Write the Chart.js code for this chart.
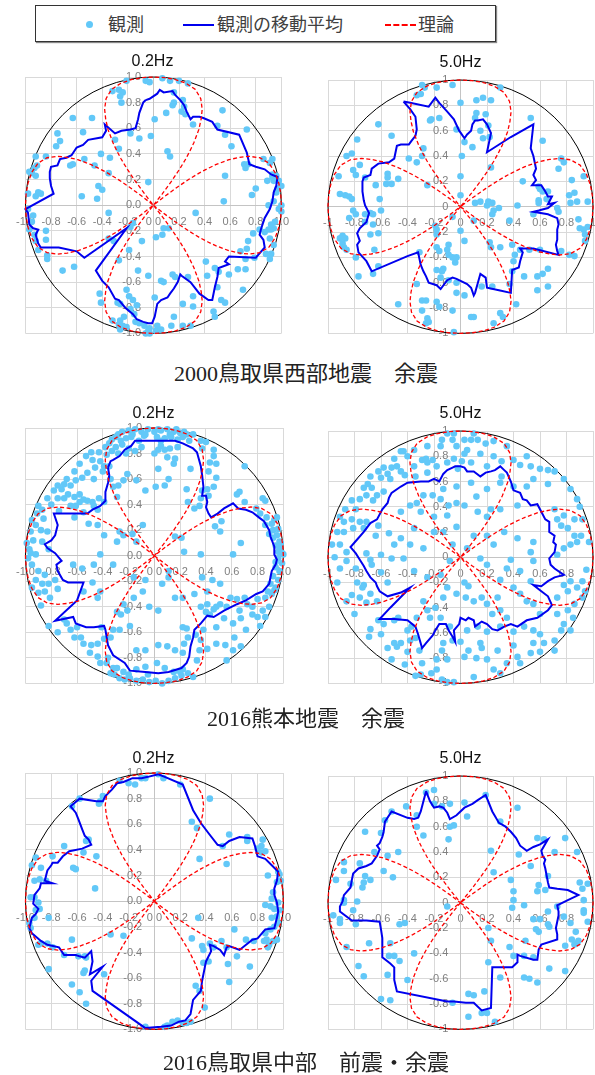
<!DOCTYPE html>
<html lang="ja">
<head>
<meta charset="utf-8">
<title>観測と理論の放射特性</title>
<script src="https://cdn.jsdelivr.net/npm/chart.js@4.4.1/dist/chart.umd.min.js"></script>
<style>
  html, body { margin: 0; padding: 0; background: #fff; overflow: hidden; }
  body { position: relative; width: 595px; height: 1075px; }
  canvas { position: absolute; }
  #legend { position: absolute; left: 35px; top: 5px; width: 459px; height: 35px;
            border: 1px solid #333; box-shadow: 1px 1px 1px #888; background: #fff; }
  #legend .item { position: absolute; top: 0; height: 35px; line-height: 35px;
                  font-family: "Noto Sans CJK JP", sans-serif; font-size: 18px; color: #404040; }
  #legend .sym { position: absolute; }
  .caption { position: absolute; left: 0; width: 612px; text-align: center;
             font-family: "Liberation Serif", "Noto Sans CJK JP", serif; font-size: 22px; color: #222; }
</style>
</head>
<body>
<div id="legend">
  <span class="sym" style="left:50px;top:15px;width:7px;height:7px;border-radius:50%;background:#62c8f8;"></span>
  <span class="item" style="left:72px;">観測</span>
  <span class="sym" style="left:147px;top:18px;width:31px;border-top:2px solid #0000ee;"></span>
  <span class="item" style="left:181px;">観測の移動平均</span>
  <span class="sym" style="left:349px;top:18px;width:31px;border-top:2px dashed #ff0000;"></span>
  <span class="item" style="left:382px;">理論</span>
</div>

<canvas id="c1" width="293" height="300" style="left:6px;top:52px;"></canvas>
<canvas id="c2" width="295" height="299" style="left:313px;top:53px;"></canvas>
<div class="caption" style="top:355px;">2000鳥取県西部地震　余震</div>
<canvas id="c3" width="295" height="298" style="left:6px;top:404px;"></canvas>
<canvas id="c4" width="295" height="298" style="left:313px;top:404px;"></canvas>
<div class="caption" style="top:700px;">2016熊本地震　余震</div>
<canvas id="c5" width="295" height="299" style="left:6px;top:749px;"></canvas>
<canvas id="c6" width="295" height="299" style="left:313px;top:749px;"></canvas>
<div class="caption" style="top:1044px;">2016鳥取県中部　前震・余震</div>

<script>
// ---- theoretical radiation lobe: radius against angle from the lobe axis (deg) ----
const lobeOffsetDeg = [0, 5, 10, 15, 20, 24, 27, 29, 31, 33, 34, 35, 36, 37, 38, 38.6];
const lobeRadius    = [1.0, 0.999, 0.995, 0.985, 0.96, 0.91, 0.84, 0.77, 0.69, 0.58, 0.51, 0.44, 0.35, 0.24, 0.11, 0];
const lobeAxesDeg   = [0, 90, 180, 270];

// ---- axis ticks ----
const tickMin = -1, tickMax = 1, tickStep = 0.2;

// ---- 2000 Tottori-ken Seibu aftershocks ----
const tottori2000Obs02 = [[-0.21,0.97],[-0.06,0.97],[-0.03,0.96],[0.07,0.99],[0.13,0.97],[0.20,0.97],[0.27,0.95],[-0.32,0.89],[-0.27,0.90],[-0.24,0.88],[-0.26,0.85],[-0.25,0.80],[0.01,0.67],[0.10,0.72],[0.15,0.78],[0.16,0.80],[0.23,0.82],[0.24,0.77],[0.22,0.73],[0.25,0.71],[0.16,0.88],[0.31,0.63],[0.54,0.74],[-0.63,0.68],[-0.48,0.68],[-0.55,0.57],[-0.75,0.56],[-0.73,0.50],[-0.76,0.46],[-0.18,0.56],[-0.11,0.52],[-0.02,0.54],[-0.30,0.51],[-0.27,0.44],[-0.34,0.37],[-0.41,0.40],[-0.54,0.36],[-0.63,0.32],[-0.65,0.31],[-0.46,0.31],[-0.35,0.25],[-0.43,0.15],[-0.40,0.12],[-0.56,0.07],[-0.44,0.05],[-0.35,-0.06],[-0.92,0.38],[-0.91,0.31],[-0.93,0.29],[-0.84,0.38],[-0.97,0.26],[-0.95,0.25],[-0.92,0.23],[-0.98,0.09],[-0.90,0.10],[-0.92,0.07],[-0.88,0.09],[-0.98,-0.03],[-0.94,-0.08],[-0.95,-0.13],[-0.97,-0.19],[-0.93,-0.23],[-0.84,-0.20],[-0.84,-0.27],[-0.92,-0.28],[-0.90,-0.35],[-0.83,-0.39],[-0.83,-0.42],[-0.71,-0.51],[-0.62,-0.48],[-0.35,-0.26],[-0.31,-0.28],[-0.18,-0.17],[-0.16,-0.14],[-0.09,-0.28],[-0.27,-0.43],[-0.19,-0.35],[-0.12,-0.51],[-0.21,-0.66],[-0.42,-0.69],[-0.41,-0.76],[-0.28,-0.76],[-0.26,-0.77],[-0.19,-0.71],[-0.16,-0.74],[-0.13,-0.78],[-0.18,-0.81],[-0.15,-0.85],[-0.23,-0.87],[-0.32,-0.90],[-0.26,-0.90],[-0.27,-0.93],[-0.26,-0.97],[-0.24,-0.94],[-0.21,-0.95],[-0.14,-0.91],[-0.11,-0.92],[-0.07,-0.94],[-0.03,-0.96],[-0.04,-0.98],[-0.03,-1.00],[0.02,-0.98],[-0.06,-1.00],[0.03,-0.94],[0.06,-0.97],[0.14,-0.94],[0.16,-0.87],[0.23,-0.94],[0.29,-0.94],[0.23,-0.77],[0.31,-0.79],[0.08,-0.60],[0.06,-0.59],[0.15,-0.54],[0.17,-0.56],[0.27,-0.56],[-0.04,-0.55],[0.01,-0.72],[0.31,-0.71],[0.41,-0.44],[0.42,-0.55],[0.50,-0.64],[0.48,-0.49],[0.51,-0.52],[0.59,-0.54],[0.66,-0.50],[0.72,-0.50],[0.70,-0.66],[0.53,-0.74],[0.56,-0.76],[0.47,-0.83],[0.48,-0.87],[0.74,-0.28],[0.73,-0.34],[0.68,-0.36],[0.72,-0.42],[0.79,-0.41],[0.88,-0.38],[0.91,-0.42],[0.92,-0.38],[0.94,-0.31],[0.91,-0.26],[0.92,-0.19],[0.94,-0.18],[0.92,-0.15],[0.95,-0.13],[0.78,-0.22],[0.83,-0.19],[0.87,-0.21],[0.90,-0.19],[1.00,-0.05],[0.98,-0.03],[1.00,0.00],[0.94,0.03],[0.90,0.00],[0.96,0.10],[0.97,0.13],[1.00,0.15],[0.98,0.19],[0.96,0.23],[0.94,0.19],[0.89,0.19],[0.93,0.22],[0.93,0.24],[0.93,0.36],[0.91,0.33],[0.86,0.36],[0.74,0.32],[0.71,0.32],[0.72,0.29],[0.61,0.46],[0.73,0.59],[0.56,0.55],[0.50,0.62],[0.56,0.23],[0.80,0.13],[0.77,0.08],[0.55,0.03],[0.33,-0.06],[0.12,-0.18],[0.08,-0.18],[0.07,-0.23],[0.02,-0.25],[0.11,0.42],[0.13,0.38],[-0.04,0.18]];
const tottori2000Avg02 = [[-0.06,0.82],[-0.03,0.83],[0.03,0.87],[0.05,0.90],[0.08,0.88],[0.15,0.89],[0.17,0.86],[0.21,0.82],[0.24,0.78],[0.26,0.73],[0.29,0.67],[0.31,0.69],[0.36,0.69],[0.39,0.68],[0.46,0.65],[0.50,0.59],[0.67,0.55],[0.73,0.41],[0.75,0.32],[0.80,0.30],[0.87,0.28],[0.92,0.24],[0.97,0.22],[0.96,0.15],[0.94,0.10],[0.93,0.03],[0.91,-0.03],[0.87,-0.10],[0.84,-0.19],[0.83,-0.23],[0.86,-0.27],[0.87,-0.33],[0.80,-0.41],[0.59,-0.40],[0.56,-0.44],[0.59,-0.46],[0.51,-0.49],[0.50,-0.56],[0.48,-0.64],[0.46,-0.74],[0.43,-0.74],[0.36,-0.69],[0.29,-0.60],[0.22,-0.55],[0.21,-0.54],[0.19,-0.60],[0.16,-0.65],[0.13,-0.69],[0.11,-0.72],[0.06,-0.74],[0.03,-0.77],[0.02,-0.82],[0.01,-0.87],[-0.01,-0.92],[-0.04,-0.92],[-0.08,-0.91],[-0.13,-0.89],[-0.16,-0.85],[-0.22,-0.80],[-0.27,-0.74],[-0.30,-0.73],[-0.35,-0.64],[-0.40,-0.59],[-0.45,-0.51],[-0.21,-0.18],[-0.54,-0.41],[-0.60,-0.36],[-0.74,-0.33],[-0.88,-0.33],[-0.90,-0.30],[-0.92,-0.23],[-0.90,-0.19],[-0.94,-0.18],[-0.97,-0.15],[-0.98,-0.06],[-1.00,-0.03],[-0.78,0.09],[-0.80,0.15],[-0.81,0.21],[-0.81,0.26],[-0.80,0.30],[-0.75,0.31],[-0.73,0.36],[-0.68,0.37],[-0.64,0.39],[-0.60,0.45],[-0.55,0.47],[-0.51,0.51],[-0.40,0.53],[-0.37,0.58],[-0.38,0.63],[-0.30,0.56],[-0.25,0.58],[-0.18,0.59],[-0.14,0.60],[-0.12,0.67],[-0.11,0.72],[-0.08,0.80]];
const tottori2000Obs50 = [[-0.29,0.96],[-0.27,0.94],[-0.18,0.94],[-0.06,0.96],[0.30,0.94],[-0.33,0.88],[-0.30,0.89],[0.00,0.82],[0.12,0.84],[0.17,0.86],[0.23,0.84],[-0.23,0.68],[-0.22,0.69],[-0.16,0.70],[-0.03,0.61],[0.03,0.51],[0.11,0.70],[0.12,0.74],[0.19,0.73],[0.15,0.60],[0.17,0.54],[0.21,0.64],[0.22,0.55],[0.09,0.47],[0.23,0.31],[0.00,0.24],[0.00,0.09],[-0.28,0.46],[-0.29,0.40],[-0.39,0.38],[-0.33,0.35],[-0.52,0.56],[-0.62,0.65],[-0.78,0.53],[-0.86,0.40],[-0.82,0.42],[-0.76,0.33],[-0.92,0.24],[-0.81,0.29],[-0.79,0.25],[-0.72,0.23],[-0.55,0.26],[-0.55,0.23],[-0.56,0.18],[-0.52,0.18],[-0.47,0.22],[-0.64,0.17],[-0.25,0.17],[-0.91,0.10],[-0.87,0.09],[-0.84,0.08],[-0.82,0.06],[-0.61,0.06],[-0.81,-0.03],[-0.79,-0.06],[-0.72,-0.06],[-0.68,-0.05],[-0.66,-0.06],[-0.60,-0.03],[-0.84,-0.09],[-0.72,-0.12],[-0.66,-0.14],[-0.62,-0.21],[-0.68,-0.22],[-0.89,-0.23],[-0.91,-0.25],[-0.87,-0.25],[-0.89,-0.29],[-0.88,-0.32],[-0.86,-0.34],[-0.79,-0.40],[-0.77,-0.55],[-0.65,-0.34],[-0.66,-0.53],[-0.62,-0.47],[-0.31,-0.36],[-0.19,-0.15],[-0.18,-0.18],[-0.18,-0.22],[-0.18,-0.32],[-0.16,-0.35],[-0.09,-0.30],[-0.10,-0.34],[-0.09,-0.38],[-0.06,-0.08],[0.00,-0.19],[0.03,-0.27],[-0.06,-0.40],[-0.03,-0.40],[-0.04,-0.44],[-0.13,-0.49],[-0.14,-0.51],[-0.18,-0.50],[-0.15,-0.56],[-0.09,-0.58],[-0.03,-0.60],[-0.03,-0.68],[0.03,-0.70],[-0.33,-0.61],[-0.29,-0.74],[-0.26,-0.74],[-0.18,-0.75],[-0.16,-0.79],[-0.06,-0.82],[-0.29,-0.82],[-0.25,-0.88],[-0.24,-0.91],[-0.26,-0.92],[-0.47,-0.77],[-0.05,-0.99],[0.08,-0.87],[0.10,-0.87],[0.30,-0.84],[0.32,-0.87],[0.25,-0.92],[0.24,-0.63],[0.16,-0.63],[0.37,-0.61],[0.42,-0.77],[0.39,-0.51],[0.48,-0.55],[0.23,-0.32],[0.22,-0.28],[0.30,-0.32],[0.39,-0.30],[0.45,-0.34],[0.52,-0.34],[0.41,-0.38],[0.40,-0.43],[0.58,-0.55],[0.62,-0.53],[0.66,-0.49],[0.58,-0.66],[0.66,-0.63],[0.60,-0.34],[0.82,-0.38],[0.86,-0.39],[0.76,-0.35],[0.89,-0.10],[0.90,-0.17],[0.93,-0.18],[0.94,-0.22],[0.94,-0.27],[0.96,-0.16],[0.73,-0.01],[0.74,-0.04],[0.83,0.03],[0.88,0.04],[0.96,0.04],[0.82,0.09],[0.86,0.11],[0.84,0.21],[0.93,0.24],[0.74,0.30],[0.76,0.38],[0.78,0.35],[0.62,0.52],[0.53,0.70],[0.47,0.20],[0.59,0.16],[0.60,0.14],[0.62,0.12],[0.66,0.12],[0.65,0.06],[0.59,0.05],[0.59,0.03],[0.55,-0.06],[0.43,0.01],[0.20,0.01],[0.21,0.04],[0.24,0.03],[0.25,-0.03],[0.15,0.04],[0.11,0.03],[0.10,-0.11],[0.24,-0.06],[0.37,-0.11],[0.29,-0.01],[0.01,0.40]];
const tottori2000Avg50 = [[-0.43,0.83],[-0.38,0.82],[-0.24,0.79],[-0.19,0.86],[-0.16,0.82],[-0.10,0.75],[-0.05,0.69],[-0.01,0.60],[0.03,0.54],[0.05,0.57],[0.08,0.60],[0.09,0.65],[0.11,0.68],[0.13,0.68],[0.17,0.69],[0.20,0.65],[0.23,0.58],[0.20,0.43],[0.38,0.55],[0.55,0.65],[0.53,0.46],[0.55,0.40],[0.57,0.30],[0.55,0.25],[0.57,0.21],[0.54,0.17],[0.61,0.17],[0.64,0.12],[0.66,0.08],[0.69,0.08],[0.66,0.02],[0.71,0.03],[0.66,-0.01],[0.59,-0.03],[0.55,-0.04],[0.66,-0.06],[0.73,-0.09],[0.74,-0.14],[0.73,-0.18],[0.73,-0.26],[0.72,-0.30],[0.73,-0.35],[0.74,-0.38],[0.55,-0.33],[0.45,-0.33],[0.47,-0.36],[0.45,-0.43],[0.44,-0.48],[0.39,-0.50],[0.38,-0.68],[0.29,-0.66],[0.20,-0.64],[0.19,-0.56],[0.15,-0.53],[0.11,-0.68],[0.10,-0.70],[0.08,-0.64],[0.05,-0.61],[-0.03,-0.57],[-0.06,-0.56],[-0.10,-0.58],[-0.15,-0.65],[-0.18,-0.62],[-0.24,-0.60],[-0.26,-0.55],[-0.28,-0.51],[-0.30,-0.46],[-0.32,-0.36],[-0.40,-0.39],[-0.67,-0.51],[-0.71,-0.43],[-0.77,-0.36],[-0.78,-0.30],[-0.76,-0.27],[-0.78,-0.21],[-0.76,-0.17],[-0.71,-0.12],[-0.69,-0.05],[-0.72,0.01],[-0.73,0.05],[-0.74,0.12],[-0.74,0.20],[-0.73,0.23],[-0.68,0.25],[-0.67,0.30],[-0.62,0.34],[-0.54,0.35],[-0.50,0.38],[-0.48,0.48],[-0.45,0.49],[-0.39,0.49],[-0.37,0.52],[-0.34,0.56],[-0.33,0.61],[-0.34,0.71],[-0.38,0.77]];

// ---- 2016 Kumamoto aftershocks ----
const kumamotoObs02 = [[-0.25,0.97],[-0.20,0.98],[-0.15,0.99],[-0.10,0.97],[-0.05,0.99],[0.00,0.97],[0.05,0.98],[0.10,0.99],[0.15,0.97],[0.20,0.96],[0.25,0.95],[-0.22,0.92],[-0.18,0.93],[-0.12,0.90],[-0.08,0.94],[0.02,0.93],[0.08,0.92],[0.13,0.93],[0.18,0.91],[0.22,0.93],[0.30,0.95],[-0.30,0.93],[-0.35,0.88],[-0.30,0.85],[-0.25,0.87],[-0.33,0.82],[-0.28,0.80],[-0.20,0.84],[-0.10,0.85],[0.05,0.86],[0.12,0.84],[0.18,0.85],[0.36,0.90],[0.40,0.89],[0.37,0.84],[0.46,0.83],[0.46,0.78],[0.48,0.72],[0.43,0.73],[0.42,0.66],[0.48,0.61],[0.46,0.54],[0.41,0.52],[0.37,0.51],[0.36,0.45],[0.42,0.47],[0.35,0.39],[0.31,0.37],[0.25,0.52],[0.26,0.42],[0.28,0.68],[0.16,0.76],[0.10,0.77],[0.15,0.72],[0.08,0.83],[0.03,0.83],[0.03,0.68],[-0.07,0.51],[0.01,0.54],[0.08,0.55],[0.11,0.60],[-0.14,0.59],[-0.21,0.64],[-0.24,0.59],[-0.28,0.55],[-0.34,0.60],[-0.32,0.54],[-0.29,0.46],[-0.39,0.42],[-0.43,0.45],[-0.48,0.42],[-0.52,0.43],[-0.55,0.44],[-0.58,0.42],[-0.61,0.39],[-0.47,0.39],[-0.44,0.36],[-0.55,0.34],[-0.65,0.39],[-0.49,0.81],[-0.43,0.81],[-0.37,0.79],[-0.48,0.75],[-0.42,0.74],[-0.39,0.70],[-0.46,0.69],[-0.52,0.65],[-0.56,0.61],[-0.47,0.60],[-0.61,0.59],[-0.65,0.55],[-0.75,0.55],[-0.78,0.51],[-0.72,0.52],[-0.67,0.48],[-0.70,0.45],[-0.83,0.45],[-0.75,0.45],[-0.90,0.39],[-0.87,0.36],[-0.91,0.33],[-0.86,0.29],[-0.95,0.28],[-0.92,0.24],[-0.88,0.20],[-0.96,0.19],[-0.83,0.19],[-0.87,0.11],[-0.97,0.05],[-0.96,0.02],[-0.92,0.01],[-0.82,0.05],[-0.98,-0.02],[-0.95,-0.07],[-0.90,-0.12],[-0.92,-0.19],[-0.87,-0.22],[-0.82,-0.22],[-0.85,-0.28],[-0.88,-0.39],[-0.81,-0.33],[-0.75,-0.26],[-0.77,-0.19],[-0.63,-0.07],[-0.48,-0.21],[-0.56,-0.10],[-0.55,-0.28],[-0.42,-0.28],[-0.44,-0.33],[-0.82,-0.55],[-0.75,-0.60],[-0.68,-0.53],[-0.65,-0.58],[-0.62,-0.64],[-0.60,-0.56],[-0.55,-0.69],[-0.49,-0.70],[-0.44,-0.69],[-0.39,-0.65],[-0.41,-0.56],[-0.34,-0.64],[-0.32,-0.58],[-0.27,-0.58],[-0.19,-0.55],[-0.29,-0.44],[-0.26,-0.46],[-0.24,-0.38],[-0.21,-0.43],[-0.16,-0.33],[-0.09,-0.28],[-0.16,-0.17],[-0.07,-0.19],[-0.44,-0.79],[-0.42,-0.84],[-0.37,-0.84],[-0.34,-0.92],[-0.31,-0.93],[-0.27,-0.96],[-0.23,-0.97],[-0.19,-0.96],[-0.14,-0.98],[-0.09,-0.97],[-0.04,-0.99],[0.01,-0.98],[0.06,-1.00],[0.11,-0.98],[0.16,-0.96],[0.21,-0.94],[0.26,-0.92],[-0.32,-0.88],[-0.24,-0.91],[-0.14,-0.89],[-0.07,-0.87],[0.02,-0.84],[0.08,-0.88],[0.15,-0.91],[0.22,-0.89],[-0.14,-0.74],[-0.07,-0.74],[0.03,-0.70],[0.10,-0.71],[0.16,-0.74],[0.22,-0.76],[0.23,-0.69],[0.25,-0.57],[0.22,-0.56],[0.26,-0.64],[0.32,-0.62],[0.36,-0.66],[0.38,-0.58],[0.35,-0.74],[0.33,-0.82],[0.41,-0.73],[0.48,-0.69],[0.55,-0.70],[0.61,-0.74],[0.56,-0.82],[0.62,-0.64],[0.67,-0.71],[0.71,-0.58],[0.76,-0.46],[0.80,-0.48],[0.84,-0.43],[0.86,-0.48],[0.89,-0.40],[0.82,-0.55],[0.67,-0.49],[0.61,-0.53],[0.54,-0.49],[0.48,-0.56],[0.43,-0.46],[0.40,-0.44],[0.36,-0.40],[0.41,-0.38],[0.46,-0.42],[0.51,-0.38],[0.59,-0.33],[0.64,-0.34],[0.70,-0.33],[0.72,-0.38],[0.80,-0.34],[0.86,-0.33],[0.91,-0.30],[0.94,-0.25],[0.90,-0.22],[0.96,-0.19],[0.92,-0.16],[0.97,-0.12],[0.94,-0.09],[0.99,-0.06],[0.96,-0.02],[1.00,0.01],[0.96,0.03],[0.97,0.06],[0.94,0.08],[0.97,0.11],[0.92,0.14],[0.95,0.16],[0.89,0.17],[0.92,0.20],[0.96,0.21],[0.86,0.24],[0.91,0.25],[0.95,0.30],[0.87,0.30],[0.82,0.33],[0.79,0.37],[0.70,0.42],[0.64,0.48],[0.66,0.50],[0.70,0.70],[0.84,0.45],[0.86,0.43],[0.67,0.10],[0.61,0.01],[0.52,0.27],[0.47,0.23],[0.51,0.19],[0.23,0.03],[0.16,0.15],[0.21,0.14],[0.36,0.01],[0.37,-0.17],[0.45,-0.19],[0.51,-0.22],[0.41,-0.28],[0.31,-0.30],[0.22,-0.33],[0.16,-0.33],[0.11,-0.17],[0.06,-0.22],[0.11,-0.12],[-0.04,-0.40],[0.03,-0.43],[-0.27,0.19],[-0.29,0.11],[-0.24,0.16],[-0.39,0.16],[-0.44,0.24],[-0.51,0.25],[-0.42,0.01],[-0.47,-0.07],[-0.32,-0.07],[-0.14,0.11],[-0.17,0.17],[-0.09,0.24],[-0.28,0.95],[-0.17,0.95],[-0.07,0.95],[0.03,0.99],[0.12,0.95],[0.17,0.99],[0.23,0.97],[-0.33,0.91],[-0.26,0.90],[0.05,0.90],[0.27,0.90],[-0.38,0.85],[-0.22,0.80],[-0.15,0.82],[0.00,0.80],[-0.58,0.72],[-0.53,0.78],[-0.40,0.66],[-0.35,0.70],[-0.62,0.66],[-0.68,0.60],[-0.70,0.56],[-0.58,0.48],[-0.62,0.46],[-0.80,0.40],[-0.99,0.10],[-0.94,0.12],[-0.85,-0.15],[-0.95,-0.25],[-0.90,-0.29],[0.93,0.28],[0.98,0.10],[0.94,-0.05],[0.99,0.02],[0.93,-0.27],[0.88,-0.28],[0.76,-0.40],[0.66,-0.43],[0.56,-0.40],[0.48,-0.40],[0.30,-0.95],[0.20,-0.91],[-0.05,-0.93],[-0.20,-0.93],[-0.29,-0.88],[-0.36,-0.80],[-0.50,-0.76],[-0.57,-0.64],[-0.70,-0.50],[-0.62,0.30],[-0.74,0.35]];
const kumamotoAvg02 = [[-0.36,0.69],[-0.34,0.74],[-0.32,0.75],[-0.27,0.78],[-0.23,0.83],[-0.18,0.86],[-0.15,0.90],[-0.04,0.90],[0.06,0.90],[0.16,0.90],[0.22,0.88],[0.30,0.84],[0.33,0.81],[0.36,0.70],[0.37,0.63],[0.38,0.54],[0.37,0.47],[0.40,0.47],[0.41,0.42],[0.40,0.38],[0.42,0.33],[0.44,0.30],[0.49,0.33],[0.54,0.37],[0.61,0.41],[0.65,0.37],[0.71,0.36],[0.76,0.34],[0.81,0.30],[0.85,0.27],[0.89,0.20],[0.90,0.15],[0.93,0.07],[0.93,0.01],[0.95,-0.03],[0.94,-0.07],[0.91,-0.12],[0.89,-0.22],[0.84,-0.28],[0.79,-0.30],[0.71,-0.35],[0.64,-0.38],[0.54,-0.43],[0.46,-0.48],[0.41,-0.47],[0.36,-0.53],[0.31,-0.58],[0.30,-0.64],[0.28,-0.71],[0.27,-0.79],[0.25,-0.84],[0.21,-0.88],[0.11,-0.91],[0.03,-0.92],[-0.07,-0.91],[-0.19,-0.90],[-0.23,-0.84],[-0.32,-0.78],[-0.36,-0.70],[-0.38,-0.58],[-0.39,-0.55],[-0.47,-0.56],[-0.53,-0.56],[-0.61,-0.53],[-0.63,-0.48],[-0.77,-0.51],[-0.60,-0.35],[-0.55,-0.21],[-0.67,-0.21],[-0.71,-0.19],[-0.75,-0.12],[-0.76,-0.07],[-0.72,-0.04],[-0.77,0.02],[-0.83,0.06],[-0.85,0.09],[-0.80,0.12],[-0.77,0.16],[-0.75,0.24],[-0.78,0.33],[-0.65,0.33],[-0.52,0.33],[-0.48,0.36],[-0.42,0.39],[-0.38,0.43],[-0.38,0.50],[-0.36,0.57],[-0.35,0.63]];
const kumamotoObs50 = [[-0.14,0.93],[-0.06,0.93],[0.03,0.93],[0.08,0.93],[0.13,0.93],[0.19,0.90],[-0.05,0.98],[-0.15,0.88],[-0.03,0.88],[0.05,0.85],[0.01,0.76],[0.15,0.82],[0.25,0.80],[0.31,0.76],[-0.45,0.84],[-0.43,0.84],[-0.29,0.77],[-0.26,0.78],[-0.25,0.75],[-0.21,0.77],[-0.18,0.72],[-0.10,0.75],[-0.05,0.78],[0.03,0.82],[0.08,0.75],[0.20,0.72],[0.31,0.64],[0.40,0.56],[-0.58,0.71],[-0.52,0.71],[-0.48,0.72],[-0.45,0.68],[-0.68,0.64],[-0.60,0.63],[-0.53,0.62],[-0.42,0.65],[-0.34,0.64],[-0.73,0.55],[-0.67,0.55],[-0.63,0.49],[-0.71,0.49],[-0.58,0.52],[-0.76,0.46],[-0.87,0.38],[-0.79,0.38],[-0.91,0.32],[-0.82,0.30],[-0.76,0.28],[-0.71,0.28],[-0.93,0.20],[-0.88,0.20],[-0.81,0.23],[-0.73,0.23],[-0.62,0.25],[-0.54,0.19],[-0.64,0.17],[-0.91,0.10],[-0.86,0.04],[-0.71,0.03],[-0.60,0.02],[-0.68,-0.02],[-0.86,-0.03],[-0.91,-0.09],[-0.79,-0.09],[-0.67,-0.06],[-0.52,-0.01],[-0.60,-0.12],[-0.78,-0.20],[-0.73,-0.22],[-0.86,-0.35],[-0.74,-0.24],[-0.76,-0.32],[-0.68,-0.29],[-0.71,-0.36],[-0.63,-0.35],[-0.68,-0.57],[-0.69,-0.63],[-0.60,-0.61],[-0.58,-0.53],[-0.50,-0.50],[-0.47,-0.48],[-0.50,-0.68],[-0.48,-0.71],[-0.45,-0.68],[-0.52,-0.81],[-0.38,-0.66],[-0.37,-0.55],[-0.40,-0.58],[-0.34,-0.64],[-0.31,-0.74],[-0.29,-0.84],[-0.34,-0.94],[-0.30,-0.93],[-0.18,-0.89],[-0.18,-0.81],[-0.14,-0.74],[-0.13,-0.68],[-0.06,-0.66],[-0.10,-0.81],[-0.14,-0.97],[-0.10,-0.99],[-0.05,-0.99],[0.03,-0.79],[0.06,-0.74],[0.00,-0.67],[0.15,-0.68],[0.16,-0.72],[0.20,-0.81],[0.28,-0.74],[0.35,-0.84],[0.25,-0.89],[0.30,-0.92],[0.43,-0.79],[0.45,-0.84],[0.53,-0.76],[0.55,-0.68],[0.60,-0.61],[0.60,-0.75],[0.71,-0.66],[0.71,-0.74],[0.76,-0.58],[0.78,-0.53],[0.83,-0.58],[0.73,-0.45],[0.81,-0.42],[0.86,-0.37],[0.92,-0.32],[0.88,-0.24],[0.94,-0.27],[0.92,-0.19],[0.83,-0.19],[0.78,-0.22],[0.81,-0.27],[0.73,-0.32],[0.55,-0.58],[0.48,-0.55],[0.40,-0.59],[0.35,-0.48],[0.30,-0.42],[0.24,-0.45],[0.20,-0.37],[0.16,-0.32],[0.10,-0.35],[0.04,-0.32],[0.06,-0.23],[0.03,-0.20],[-0.03,-0.29],[-0.10,-0.24],[-0.13,-0.32],[-0.19,-0.40],[-0.25,-0.42],[-0.33,-0.48],[-0.28,-0.35],[-0.23,-0.48],[-0.15,-0.48],[-0.08,-0.55],[0.05,-0.58],[0.13,-0.55],[0.20,-0.59],[0.30,-0.55],[0.28,-0.32],[0.40,-0.24],[0.45,-0.29],[0.50,-0.35],[0.55,-0.37],[0.60,-0.45],[0.53,-0.19],[0.45,-0.11],[0.35,-0.09],[0.30,-0.18],[0.20,-0.06],[0.15,-0.01],[0.25,0.10],[0.20,0.17],[0.33,0.20],[0.43,0.15],[0.55,0.12],[0.53,0.04],[0.55,-0.03],[0.73,0.02],[0.78,0.07],[0.83,0.10],[0.88,0.12],[0.86,0.17],[0.91,0.17],[0.81,0.23],[0.76,0.25],[0.73,0.30],[0.78,0.33],[0.86,0.30],[0.71,0.38],[0.88,0.46],[0.83,0.54],[0.78,0.62],[0.71,0.68],[0.66,0.69],[0.55,0.62],[0.53,0.72],[0.50,0.80],[0.45,0.73],[0.40,0.77],[0.50,0.56],[0.43,0.41],[0.30,0.38],[0.23,0.38],[0.20,0.32],[0.13,0.36],[0.03,0.41],[-0.03,0.43],[-0.09,0.41],[-0.15,0.46],[-0.21,0.49],[-0.28,0.49],[-0.33,0.43],[-0.38,0.41],[-0.45,0.36],[-0.30,0.36],[-0.20,0.32],[-0.10,0.33],[-0.03,0.24],[-0.13,0.20],[-0.20,0.20],[-0.35,0.23],[-0.45,0.15],[-0.38,0.10],[-0.28,0.07],[-0.43,-0.01],[-0.35,-0.11],[-0.25,-0.16],[-0.15,-0.14],[-0.08,-0.03],[-0.06,0.10],[0.05,0.07],[0.10,0.17],[0.08,0.59],[-0.03,0.56],[-0.13,0.54],[0.20,0.54],[0.30,0.59],[-0.25,0.67],[-0.35,0.72],[-0.50,0.78],[-0.40,0.80],[-0.35,0.85],[-0.25,0.88],[-0.62,0.68],[-0.55,0.66],[-0.70,0.58],[-0.66,0.45],[-0.82,0.45],[-0.88,0.28],[-0.97,0.10],[-0.95,0.00],[-0.93,-0.20],[-0.82,-0.30],[-0.80,-0.45],[-0.62,-0.50],[-0.55,-0.72],[-0.40,-0.75],[-0.42,-0.85],[-0.22,-0.92],[0.10,-0.95],[0.12,-0.80],[0.40,-0.70],[0.63,-0.68],[0.85,-0.48],[0.95,-0.10],[0.97,0.12],[0.92,0.30],[0.90,0.40],[0.66,0.58],[0.60,0.70],[0.35,0.88],[0.25,0.92],[0.10,0.98],[-0.10,0.98],[-0.02,0.70],[0.12,0.48],[-0.50,0.10],[-0.55,-0.20],[0.38,-0.02]];
const kumamotoAvg50 = [[-0.06,0.71],[-0.04,0.72],[0.00,0.72],[0.03,0.71],[0.05,0.68],[0.10,0.68],[0.15,0.64],[0.19,0.67],[0.23,0.68],[0.26,0.69],[0.30,0.72],[0.33,0.69],[0.35,0.67],[0.38,0.60],[0.40,0.53],[0.45,0.51],[0.47,0.46],[0.50,0.45],[0.53,0.41],[0.58,0.42],[0.64,0.30],[0.67,0.28],[0.67,0.20],[0.71,0.17],[0.70,0.12],[0.72,0.10],[0.71,0.04],[0.67,-0.01],[0.68,-0.06],[0.71,-0.09],[0.78,-0.14],[0.71,-0.16],[0.66,-0.19],[0.61,-0.23],[0.55,-0.22],[0.61,-0.27],[0.66,-0.31],[0.69,-0.38],[0.66,-0.42],[0.58,-0.48],[0.50,-0.50],[0.43,-0.55],[0.38,-0.53],[0.33,-0.55],[0.28,-0.58],[0.24,-0.57],[0.20,-0.53],[0.16,-0.51],[0.11,-0.55],[0.10,-0.50],[0.06,-0.48],[0.04,-0.50],[0.00,-0.48],[-0.01,-0.53],[-0.05,-0.58],[-0.04,-0.67],[-0.06,-0.63],[-0.09,-0.58],[-0.11,-0.53],[-0.16,-0.53],[-0.19,-0.58],[-0.21,-0.62],[-0.26,-0.68],[-0.29,-0.72],[-0.32,-0.61],[-0.34,-0.55],[-0.40,-0.50],[-0.50,-0.49],[-0.61,-0.49],[-0.53,-0.40],[-0.38,-0.24],[-0.45,-0.28],[-0.55,-0.31],[-0.61,-0.27],[-0.63,-0.23],[-0.64,-0.20],[-0.68,-0.16],[-0.71,-0.11],[-0.73,-0.07],[-0.76,-0.02],[-0.79,0.03],[-0.83,0.08],[-0.78,0.14],[-0.73,0.20],[-0.68,0.27],[-0.63,0.30],[-0.59,0.38],[-0.55,0.43],[-0.54,0.47],[-0.52,0.51],[-0.45,0.56],[-0.40,0.59],[-0.30,0.60],[-0.24,0.60],[-0.20,0.62],[-0.16,0.60],[-0.13,0.66],[-0.10,0.69]];

// ---- 2016 Tottori-ken Chubu foreshocks and aftershocks ----
const tottoriChubuObs02 = [[-0.27,0.94],[-0.20,0.92],[-0.15,0.91],[-0.10,0.96],[-0.07,0.96],[0.03,0.99],[0.07,0.96],[0.20,0.91],[0.43,0.80],[0.29,0.62],[0.33,0.57],[0.35,0.33],[-0.40,0.82],[-0.42,0.78],[-0.43,0.76],[-0.58,0.80],[-0.64,0.74],[-0.53,0.47],[-0.51,0.48],[-0.55,0.38],[-0.70,0.43],[-0.63,0.26],[-0.61,0.25],[-0.45,0.35],[-0.46,0.10],[-0.79,0.35],[-0.92,0.34],[-0.95,0.28],[-0.88,0.26],[-0.93,0.16],[-0.89,0.17],[-0.84,0.16],[-0.96,0.03],[-0.93,0.03],[-0.90,-0.01],[-0.92,-0.07],[-0.89,-0.06],[-0.93,-0.13],[-0.97,-0.17],[-0.96,-0.21],[-0.82,-0.13],[-0.90,-0.34],[-0.88,-0.33],[-0.83,-0.33],[-0.79,-0.36],[-0.82,-0.53],[-0.70,-0.42],[-0.64,-0.30],[-0.64,-0.65],[-0.58,-0.71],[-0.53,-0.80],[-0.59,-0.43],[-0.54,-0.43],[-0.53,-0.44],[-0.54,-0.54],[-0.55,-0.56],[-0.39,-0.57],[-0.34,-0.26],[-0.24,-0.27],[-0.07,-0.98],[0.08,-0.98],[0.10,-0.97],[0.14,-0.94],[0.18,-0.93],[0.22,-0.95],[0.25,-0.95],[0.28,-0.94],[0.32,-0.66],[0.35,-0.70],[0.39,-0.83],[0.34,-0.13],[0.29,-0.29],[0.37,-0.35],[0.38,-0.38],[0.38,-0.48],[0.42,-0.47],[0.43,-0.33],[0.46,-0.36],[0.52,-0.31],[0.56,-0.36],[0.62,-0.22],[0.64,-0.43],[0.71,-0.30],[0.74,-0.51],[0.57,-0.49],[0.58,-0.63],[0.77,-0.31],[0.85,-0.31],[0.87,-0.30],[0.88,-0.36],[0.89,-0.34],[0.92,-0.31],[0.95,-0.30],[0.86,-0.25],[0.90,-0.22],[0.93,-0.20],[0.96,-0.17],[0.95,-0.12],[0.91,-0.13],[0.86,-0.03],[0.90,-0.04],[0.93,-0.06],[0.97,-0.07],[0.96,-0.01],[0.91,0.02],[0.92,0.07],[0.95,0.15],[0.98,0.16],[0.97,0.21],[0.96,0.23],[0.88,0.20],[0.83,0.38],[0.86,0.39],[0.80,0.41],[0.83,0.43],[0.84,0.48],[0.72,0.50],[0.72,0.47],[0.58,0.52],[0.53,0.43],[0.56,0.29]];
const tottoriChubuAvg02 = [[0.03,0.99],[0.08,0.97],[0.22,0.91],[0.30,0.71],[0.36,0.61],[0.42,0.53],[0.49,0.44],[0.53,0.43],[0.58,0.47],[0.66,0.50],[0.76,0.49],[0.78,0.43],[0.80,0.35],[0.86,0.33],[0.96,0.23],[0.95,0.16],[0.93,0.10],[0.93,0.05],[0.95,-0.01],[0.96,-0.08],[0.95,-0.13],[0.93,-0.21],[0.86,-0.22],[0.80,-0.29],[0.76,-0.30],[0.66,-0.38],[0.58,-0.35],[0.56,-0.36],[0.54,-0.42],[0.51,-0.38],[0.46,-0.35],[0.43,-0.34],[0.44,-0.39],[0.40,-0.47],[0.39,-0.52],[0.37,-0.62],[0.36,-0.70],[0.30,-0.77],[0.28,-0.88],[0.24,-0.93],[0.19,-0.94],[0.13,-0.97],[0.05,-0.98],[-0.07,-0.99],[-0.48,-0.70],[-0.49,-0.62],[-0.40,-0.51],[-0.50,-0.57],[-0.48,-0.47],[-0.49,-0.39],[-0.54,-0.44],[-0.58,-0.43],[-0.61,-0.42],[-0.70,-0.42],[-0.74,-0.36],[-0.83,-0.34],[-0.88,-0.31],[-0.95,-0.25],[-0.97,-0.21],[-0.95,-0.13],[-0.92,-0.10],[-0.90,-0.06],[-0.94,-0.02],[-0.93,0.05],[-0.89,0.10],[-0.88,0.14],[-0.79,0.14],[-0.85,0.16],[-0.84,0.20],[-0.83,0.24],[-0.80,0.28],[-0.79,0.30],[-0.75,0.30],[-0.71,0.35],[-0.66,0.39],[-0.56,0.41],[-0.49,0.44],[-0.51,0.48],[-0.54,0.51],[-0.56,0.56],[-0.59,0.64],[-0.61,0.69],[-0.65,0.74],[-0.58,0.80],[-0.45,0.78],[-0.40,0.78],[-0.38,0.82],[-0.33,0.87],[-0.29,0.92],[-0.24,0.93],[-0.17,0.96],[-0.10,0.96],[-0.05,0.97]];
const tottoriChubuObs50 = [[-0.26,0.87],[-0.20,0.89],[-0.14,0.76],[-0.08,0.78],[0.03,0.79],[0.05,0.68],[0.19,0.85],[-0.08,0.60],[-0.05,0.61],[-0.09,0.50],[-0.33,0.60],[-0.33,0.69],[-0.41,0.76],[-0.52,0.72],[-0.57,0.65],[-0.60,0.55],[-0.72,0.56],[-0.28,0.53],[-0.65,0.40],[-0.55,0.37],[-0.47,0.40],[-0.88,0.32],[-0.76,0.31],[-0.88,0.25],[-0.58,0.25],[-0.51,0.20],[-0.72,0.21],[-0.68,0.18],[-0.73,0.16],[-0.83,0.15],[-0.94,0.18],[-0.74,0.12],[-0.88,0.02],[-0.88,0.00],[-0.78,0.01],[-0.81,-0.06],[-0.96,-0.10],[-0.91,-0.13],[-0.91,-0.16],[-0.79,-0.17],[-0.86,-0.35],[-0.69,-0.32],[-0.53,-0.32],[-0.46,-0.17],[-0.42,-0.16],[-0.54,-0.42],[-0.50,-0.42],[-0.46,-0.46],[-0.35,-0.40],[-0.77,-0.50],[-0.73,-0.58],[-0.55,-0.57],[-0.40,-0.61],[-0.60,-0.76],[-0.53,-0.77],[-0.06,-0.79],[-0.10,-0.03],[0.06,-0.72],[0.10,-0.73],[0.18,-0.70],[0.06,-0.90],[0.16,-0.87],[0.20,-0.87],[0.26,-0.94],[0.21,-0.47],[0.21,-0.20],[0.23,-0.30],[0.30,-0.59],[0.37,-0.35],[0.40,-0.42],[0.40,0.02],[0.39,-0.04],[0.48,-0.02],[0.49,-0.30],[0.48,-0.42],[0.48,-0.59],[0.52,-0.60],[0.55,-0.43],[0.58,-0.63],[0.55,-0.13],[0.60,-0.13],[0.57,-0.21],[0.59,-0.23],[0.66,-0.07],[0.66,-0.17],[0.67,-0.19],[0.73,-0.03],[0.78,-0.11],[0.83,-0.16],[0.87,-0.23],[0.88,-0.32],[0.86,-0.33],[0.89,-0.30],[0.84,-0.29],[0.79,-0.34],[0.67,-0.52],[0.79,-0.54],[0.93,-0.06],[0.93,-0.08],[0.96,-0.15],[0.96,0.15],[0.92,0.11],[0.93,0.02],[0.90,0.16],[0.88,0.40],[0.79,0.51],[0.71,0.40],[0.66,0.21],[0.64,0.10],[0.59,0.14],[0.58,0.09],[0.58,0.51],[0.63,0.50],[0.53,0.29],[0.38,0.18],[0.40,0.09],[0.44,0.38],[0.43,0.75],[0.30,0.64],[0.23,0.41],[0.25,0.24],[-0.20,0.78]];
const tottoriChubuAvg50 = [[-0.26,0.88],[-0.23,0.80],[-0.20,0.75],[-0.16,0.76],[-0.13,0.75],[-0.10,0.71],[-0.08,0.66],[-0.03,0.69],[0.03,0.75],[0.09,0.78],[0.13,0.81],[0.19,0.85],[0.24,0.72],[0.29,0.63],[0.34,0.60],[0.38,0.56],[0.42,0.51],[0.45,0.45],[0.50,0.41],[0.55,0.44],[0.60,0.46],[0.66,0.50],[0.61,0.41],[0.62,0.37],[0.64,0.34],[0.63,0.31],[0.64,0.27],[0.66,0.16],[0.67,0.12],[0.73,0.11],[0.81,0.10],[0.89,0.06],[0.81,0.02],[0.73,-0.02],[0.74,-0.07],[0.74,-0.10],[0.73,-0.15],[0.72,-0.20],[0.73,-0.25],[0.73,-0.29],[0.61,-0.33],[0.59,-0.37],[0.58,-0.45],[0.55,-0.45],[0.45,-0.42],[0.43,-0.41],[0.43,-0.47],[0.39,-0.51],[0.24,-0.51],[0.23,-0.83],[0.16,-0.85],[0.10,-0.79],[0.04,-0.79],[-0.05,-0.78],[-0.10,-0.78],[-0.48,-0.70],[-0.50,-0.61],[-0.50,-0.51],[-0.53,-0.48],[-0.59,-0.43],[-0.59,-0.28],[-0.60,-0.21],[-0.61,-0.15],[-0.71,-0.14],[-0.82,-0.14],[-0.91,-0.07],[-0.91,-0.03],[-0.89,0.01],[-0.88,0.06],[-0.83,0.12],[-0.82,0.18],[-0.81,0.23],[-0.77,0.27],[-0.71,0.29],[-0.67,0.31],[-0.63,0.37],[-0.61,0.42],[-0.63,0.45],[-0.61,0.47],[-0.59,0.52],[-0.58,0.56],[-0.57,0.64],[-0.52,0.72],[-0.40,0.67],[-0.35,0.66],[-0.32,0.67],[-0.30,0.72]];

const OBS_COLOR = '#62c8f8';
const AVG_COLOR = '#0000ee';
const THEORY_COLOR = '#ff0000';

function toPoints(pairs) { return pairs.map(p => ({x: p[0], y: p[1]})); }
function closedLoop(pairs) { const pts = toPoints(pairs); pts.push({x: pairs[0][0], y: pairs[0][1]}); return pts; }

// Theory curve: each lobe profile placed around its axis
function theoryPoints() {
  const pts = [];
  const n = lobeOffsetDeg.length;
  const at = (deg, r) => ({x: r * Math.cos(deg * Math.PI / 180), y: r * Math.sin(deg * Math.PI / 180)});
  lobeAxesDeg.forEach(axis => {
    for (let i = n - 1; i >= 0; i--) pts.push(at(axis - lobeOffsetDeg[i], lobeRadius[i]));
    for (let i = 1; i < n; i++) pts.push(at(axis + lobeOffsetDeg[i], lobeRadius[i]));
  });
  return pts;
}

// Unit circle drawn through the chart's own scales
const unitCircle = {
  id: 'unitCircle',
  beforeDatasetsDraw(chart) {
    const {ctx, scales: {x, y}} = chart;
    const cx = x.getPixelForValue(0), cy = y.getPixelForValue(0);
    const rx = x.getPixelForValue(1) - cx, ry = cy - y.getPixelForValue(1);
    ctx.save();
    ctx.beginPath();
    ctx.ellipse(cx, cy, rx, ry, 0, 0, 2 * Math.PI);
    ctx.strokeStyle = '#000';
    ctx.lineWidth = 1;
    ctx.stroke();
    ctx.restore();
  }
};

const fmtFixed = v => Math.abs(v) < 1e-9 ? '0.0' : v.toFixed(1);
const fmtGeneral = v => Math.abs(v) < 1e-9 ? '0' : String(parseFloat(v.toFixed(1)));
// vertical axis labels sit a little left of the centre line
const GAP = '    ';
const gapped = fmt => v => fmt(v) + GAP;

function axis(pos, fmt, pad) {
  return {
    type: 'linear', min: tickMin, max: tickMax, position: pos,
    ticks: { stepSize: tickStep, autoSkip: false, maxRotation: 0, minRotation: 0, padding: pad,
             color: '#808080', font: { family: 'Liberation Sans', size: 11 }, callback: fmt },
    grid: { color: '#d9d9d9', drawTicks: false, lineWidth: 1 },
    border: { color: '#c4c4c4', width: 1 }
  };
}

const panels = [
  { id: 'c1', title: '0.2Hz', obs: tottori2000Obs02, avg: tottori2000Avg02, fmt: fmtFixed, titlePad: 5 },
  { id: 'c2', title: '5.0Hz', obs: tottori2000Obs50, avg: tottori2000Avg50, fmt: fmtGeneral, titlePad: 7 },
  { id: 'c3', title: '0.2Hz', obs: kumamotoObs02, avg: kumamotoAvg02, fmt: fmtFixed, titlePad: 4 },
  { id: 'c4', title: '5.0Hz', obs: kumamotoObs50, avg: kumamotoAvg50, fmt: fmtGeneral, titlePad: 7 },
  { id: 'c5', title: '0.2Hz', obs: tottoriChubuObs02, avg: tottoriChubuAvg02, fmt: fmtFixed, titlePad: 4 },
  { id: 'c6', title: '5.0Hz', obs: tottoriChubuObs50, avg: tottoriChubuAvg50, fmt: fmtGeneral, titlePad: 7 }
];

const theory = theoryPoints();

panels.forEach(p => {
  new Chart(document.getElementById(p.id), {
    type: 'scatter',
    data: {
      datasets: [
        { label: '観測', data: toPoints(p.obs), backgroundColor: OBS_COLOR, borderWidth: 0,
          pointRadius: 3.3, pointHoverRadius: 3.3, order: 3, clip: false },
        { label: '観測の移動平均', data: closedLoop(p.avg), showLine: true, borderColor: AVG_COLOR,
          borderWidth: 2, pointRadius: 0, tension: 0, order: 2, clip: false },
        { label: '理論', data: theory, showLine: true, borderColor: THEORY_COLOR, borderWidth: 1.3,
          borderDash: [4, 2.5], pointRadius: 0, tension: 0, order: 1, clip: false }
      ]
    },
    options: {
      responsive: false,
      animation: false,
      devicePixelRatio: 1,
      layout: { padding: { left: 15, right: 15, top: 0, bottom: 15 } },
      plugins: {
        legend: { display: false },
        tooltip: { enabled: false },
        title: { display: true, text: p.title, color: '#111',
                 font: { family: 'Liberation Sans', size: 16, weight: 'normal', lineHeight: 1.25 },
                 padding: { top: 0, bottom: p.titlePad } }
      },
      scales: {
        x: axis({ y: 0 }, p.fmt, 10),
        y: axis({ x: 0 }, gapped(p.fmt), 12)
      }
    },
    plugins: [unitCircle]
  });
});
</script>
</body>
</html>
